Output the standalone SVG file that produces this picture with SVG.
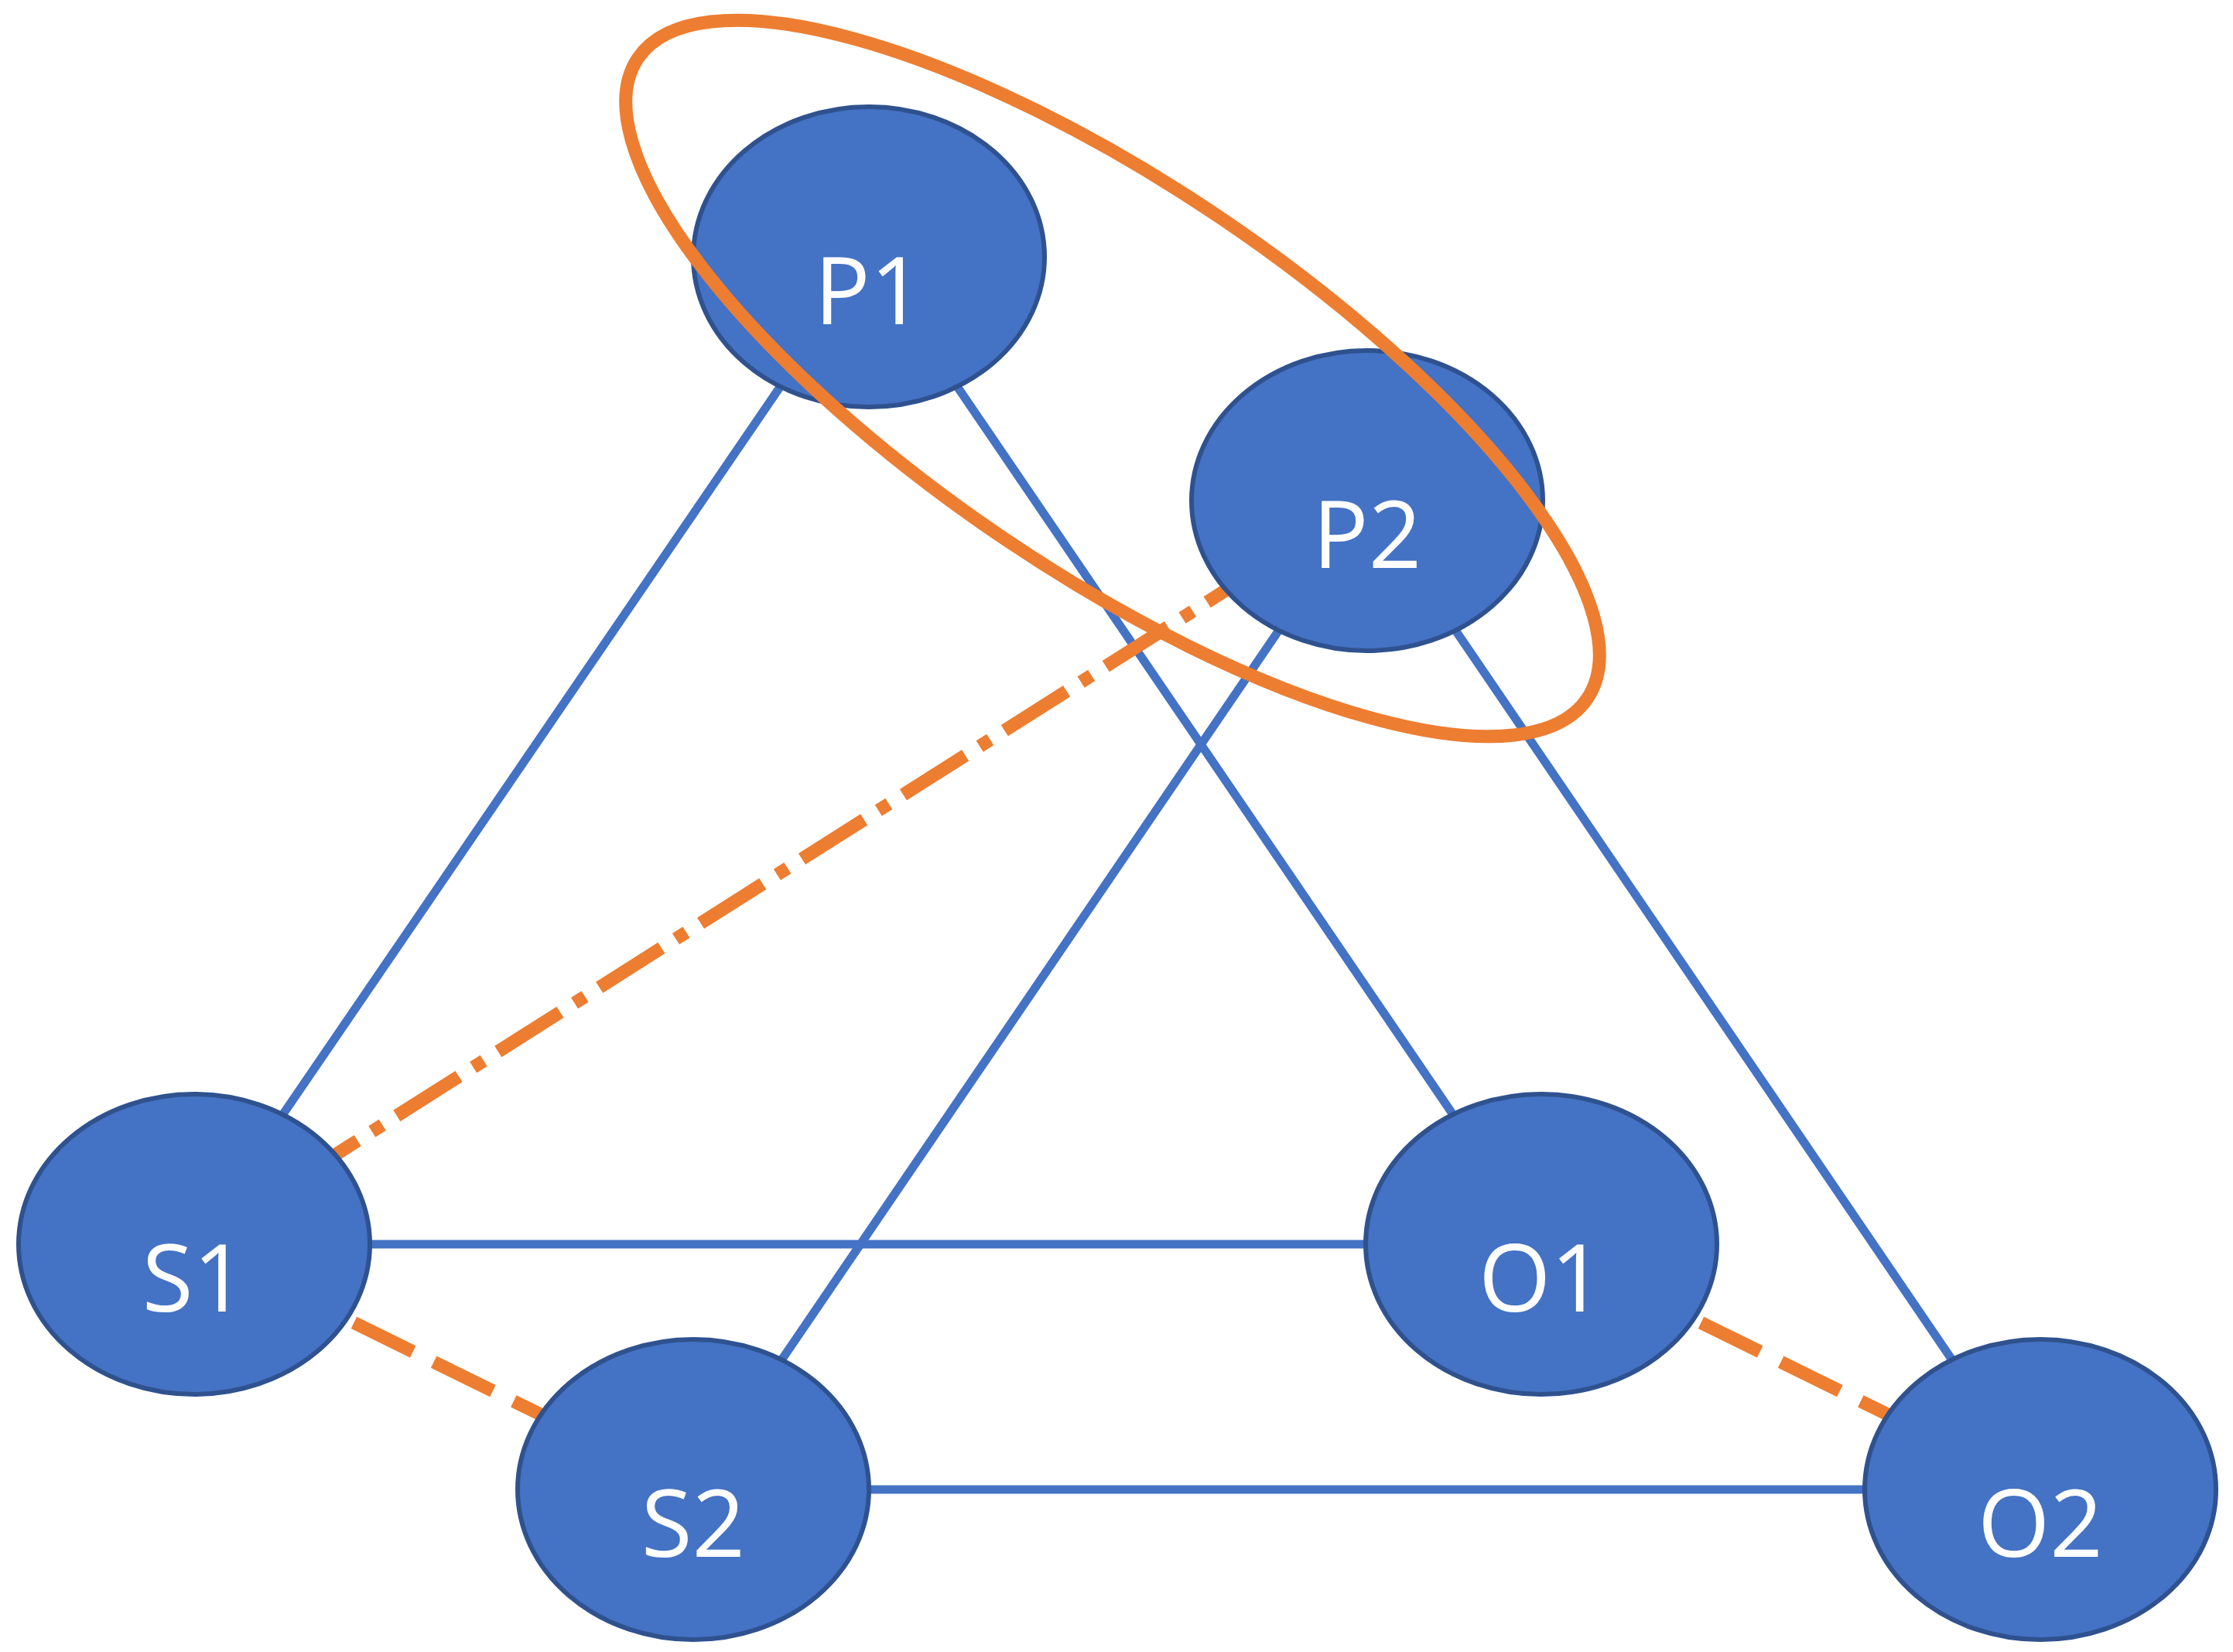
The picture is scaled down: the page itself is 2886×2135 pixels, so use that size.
<svg xmlns="http://www.w3.org/2000/svg" width="2886" height="2135" viewBox="0 0 2886 2135">
<style>
.n{fill:#4472C4;stroke:#2F528F;stroke-width:6}
.t{fill:#fff;font-family:"Open Sans",sans-serif;font-size:120px;text-anchor:middle;dominant-baseline:central}
.b{stroke:#4472C4;stroke-width:11;fill:none}
.o{stroke:#ED7D31;stroke-width:17;fill:none}
</style>
<rect width="2886" height="2135" fill="#fff"/>
<g id="connectors">
<line class="b" x1="1123" y1="332" x2="251" y2="1608"/>
<line class="b" x1="1123" y1="332" x2="1992" y2="1608"/>
<line class="b" x1="1767" y1="647" x2="896" y2="1925"/>
<line class="b" x1="1767" y1="647" x2="2637" y2="1925"/>
<line class="b" x1="251" y1="1608" x2="1992" y2="1608"/>
<line class="b" x1="896" y1="1925" x2="2637" y2="1925"/>
<line class="o" x1="251" y1="1608" x2="1767" y2="647" stroke-dasharray="95 22 16 22"/>
<line class="o" x1="251" y1="1608" x2="896" y2="1925" stroke-dasharray="85 30"/>
<line class="o" x1="1992" y1="1608" x2="2637" y2="1925" stroke-dasharray="85 30"/>
</g>
<g id="P1"><ellipse class="n" cx="1123" cy="332" rx="227" ry="194"/><text class="t" x="1123" y="372">P1</text></g>
<g id="P2"><ellipse class="n" cx="1767" cy="647" rx="227" ry="194"/><text class="t" x="1767" y="687">P2</text></g>
<g id="S1"><ellipse class="n" cx="251" cy="1608" rx="227" ry="194"/><text class="t" x="251" y="1648">S1</text></g>
<g id="O1"><ellipse class="n" cx="1992" cy="1608" rx="227" ry="194"/><text class="t" x="1992" y="1648">O1</text></g>
<g id="S2"><ellipse class="n" cx="896" cy="1925" rx="227" ry="194"/><text class="t" x="896" y="1965">S2</text></g>
<g id="O2"><ellipse class="n" cx="2637" cy="1925" rx="227" ry="194"/><text class="t" x="2637" y="1965">O2</text></g>
<g id="group"><ellipse class="o" stroke-width="10" cx="1438" cy="489" rx="740" ry="250" transform="rotate(34 1438 489)"/></g>
</svg>
